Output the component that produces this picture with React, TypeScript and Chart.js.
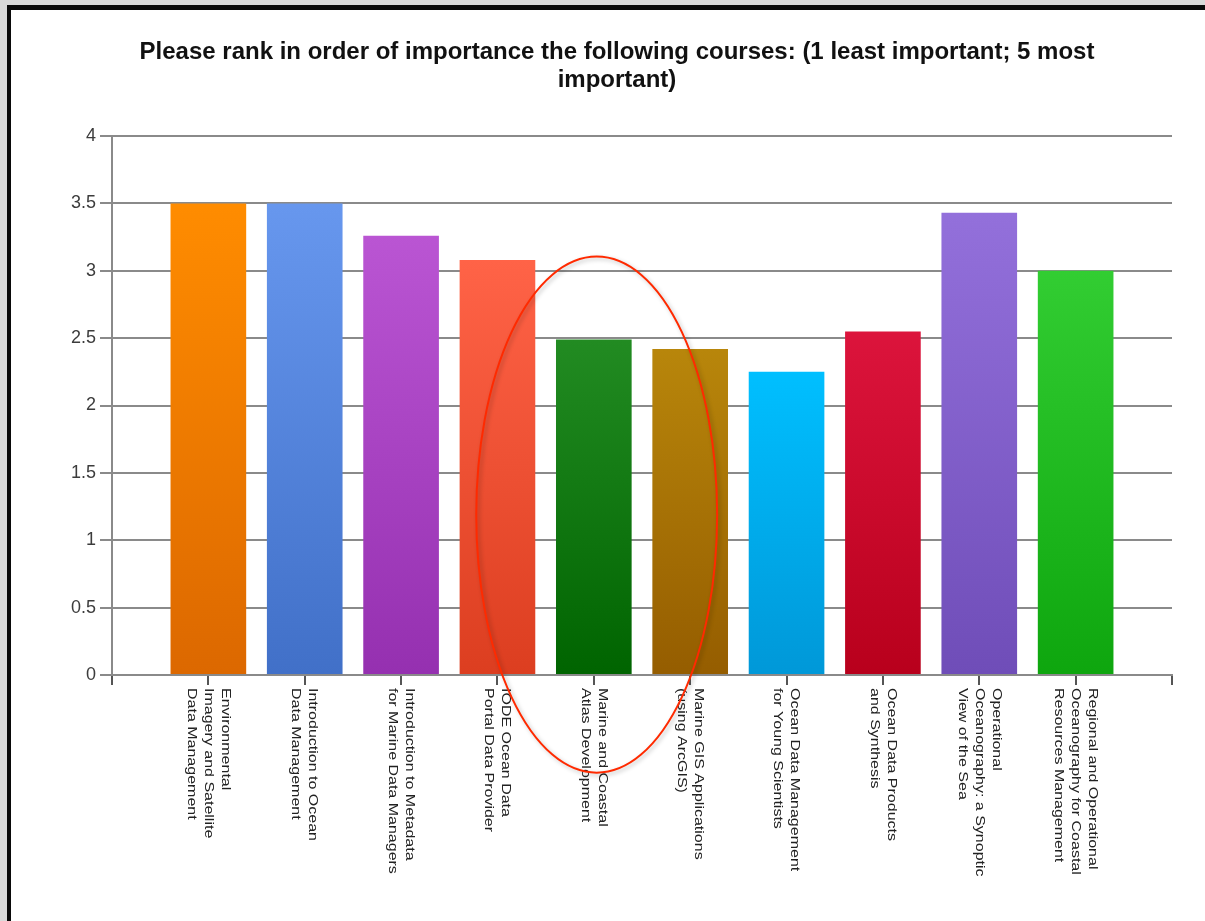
import React, { useEffect, useRef } from "react";
import { Chart, registerables } from "chart.js";

Chart.register(...registerables);

const FONT = "'Liberation Sans', Arial, sans-serif";

const titleLines = [
  "Please rank in order of importance the following courses: (1 least important; 5 most",
  "important)",
];

const courseLabelLines: string[][] = [
  ["Environmental", "Imagery and Satellite", "Data Management"],
  ["Introduction to Ocean", "Data Management"],
  ["Introduction to Metadata", "for Marine Data Managers"],
  ["IODE Ocean Data", "Portal Data Provider"],
  ["Marine and Coastal", "Atlas Development"],
  ["Marine GIS Applications", "(using ArcGIS)"],
  ["Ocean Data Management", "for Young Scientists"],
  ["Ocean Data Products", "and Synthesis"],
  ["Operational", "Oceanography: a Synoptic", "View of the Sea"],
  ["Regional and Operational", "Oceanography for Coastal", "Resources Management"],
];

const averageRanks = [3.5, 3.5, 3.26, 3.08, 2.49, 2.42, 2.25, 2.55, 3.43, 3.0];

const barTopColors = [
  "#ff8c00", "#6797ee", "#ba55d3", "#ff6347", "#228b22",
  "#b8860b", "#00bfff", "#dc143c", "#9370db", "#32cd32",
];
const barBottomColors = [
  "#dc6800", "#4170c8", "#9530b0", "#dc3e20", "#006400",
  "#955d00", "#0098d8", "#b8001c", "#6f4db8", "#0ea60e",
];

const yMin = 0;
const yMax = 4;
const yStep = 0.5;

// highlight ellipse (in axis units: category index / value)
const ellipseCenterIndex = 5.03;
const ellipseCenterValue = 1.19;
const ellipseRadiusIndex = 1.25;
const ellipseRadiusValue = 1.915;

const CANVAS_W = 1194;
const CANVAS_H = 911;

export default function App() {
  const ref = useRef<HTMLCanvasElement | null>(null);

  useEffect(() => {
    if (!ref.current) return;
    const n = averageRanks.length;
    const labels = ["", ...courseLabelLines.map((l) => l.join(" ")), ""];
    const data = [null, ...averageRanks, null];

    const xLabelsPlugin = {
      id: "xLabels",
      afterDraw(chart: any) {
        const ctx = chart.ctx;
        const xs = chart.scales.x;
        const base = chart.chartArea.bottom;
        ctx.save();
        ctx.fillStyle = "#222";
        ctx.font = `16px ${FONT}`;
        ctx.textBaseline = "middle";
        ctx.textAlign = "left";
        courseLabelLines.forEach((lines, i) => {
          const px = xs.getPixelForValue(i + 1);
          const k = lines.length;
          lines.forEach((line, j) => {
            ctx.save();
            ctx.translate(px, base + 13);
            ctx.rotate(Math.PI / 2);
            ctx.translate(0, (j - (k - 1) / 2) * 17);
            ctx.scale(1, 0.85);
            ctx.fillText(line, 0, 0);
            ctx.restore();
          });
        });
        ctx.restore();
      },
    };

    const ellipsePlugin = {
      id: "highlightEllipse",
      afterDraw(chart: any) {
        const ctx = chart.ctx;
        const xs = chart.scales.x;
        const ys = chart.scales.y;
        const cx = xs.getPixelForValue(ellipseCenterIndex);
        const cy = ys.getPixelForValue(ellipseCenterValue);
        const rx = Math.abs(xs.getPixelForValue(ellipseCenterIndex + ellipseRadiusIndex) - cx);
        const ry = Math.abs(ys.getPixelForValue(ellipseCenterValue + ellipseRadiusValue) - cy);
        ctx.save();
        ctx.shadowColor = "rgba(0,0,0,0.25)";
        ctx.shadowBlur = 4;
        ctx.shadowOffsetX = 2;
        ctx.shadowOffsetY = 2;
        ctx.strokeStyle = "#ff2a00";
        ctx.lineWidth = 2;
        ctx.beginPath();
        ctx.ellipse(cx, cy, rx, ry, 0, 0, Math.PI * 2);
        ctx.stroke();
        ctx.restore();
      },
    };

    const chart = new Chart(ref.current, {
      type: "bar",
      data: {
        labels,
        datasets: [
          {
            data,
            backgroundColor: (c: any) => {
              const i = c.dataIndex - 1;
              if (i < 0 || i >= n) return "transparent";
              const ch = c.chart;
              const ys = ch.scales && ch.scales.y;
              if (!ch.chartArea || !ys) return barTopColors[i];
              const top = ys.getPixelForValue(averageRanks[i]);
              const bottom = ys.getPixelForValue(0);
              const g = ch.ctx.createLinearGradient(0, top, 0, bottom);
              g.addColorStop(0, barTopColors[i]);
              g.addColorStop(1, barBottomColors[i]);
              return g;
            },
            borderWidth: 0,
            barPercentage: 0.785,
            categoryPercentage: 1,
          },
        ],
      },
      options: {
        responsive: false,
        animation: false,
        devicePixelRatio: 1,
        layout: { padding: { left: 51, right: 33, top: 0, bottom: 0 } },
        plugins: {
          legend: { display: false },
          tooltip: { enabled: false },
          title: {
            display: true,
            text: titleLines,
            color: "#111",
            font: { family: FONT, size: 24, weight: "bold", lineHeight: 28 / 24 },
            padding: { top: 28, bottom: 42 },
          },
        },
        scales: {
          x: {
            type: "category",
            offset: false,
            grid: {
              display: true,
              offset: false,
              drawOnChartArea: false,
              drawTicks: true,
              tickLength: 10,
              color: "#555",
              lineWidth: 2,
            },
            border: { display: true, color: "#8a8a8a", width: 2 },
            ticks: { display: false },
            afterFit: (s: any) => {
              s.height = CANVAS_H - 665;
            },
          },
          y: {
            min: yMin,
            max: yMax,
            ticks: {
              stepSize: yStep,
              padding: 4,
              color: "#3c3c3c",
              font: { family: FONT, size: 18 },
              callback: (v: any) => String(Number(v)),
            },
            grid: {
              color: "#8a8a8a",
              lineWidth: 2,
              drawTicks: true,
              tickLength: 12,
            },
            border: { display: true, color: "#8a8a8a", width: 2 },
            afterFit: (s: any) => {
              s.width = 50;
            },
          },
        },
      } as any,
      plugins: [xLabelsPlugin, ellipsePlugin],
    });
    return () => chart.destroy();
  }, []);

  return (
    <div
      style={{
        position: "fixed",
        left: 0,
        top: 0,
        width: 1205,
        height: 921,
        background: "#d9d9d9",
        overflow: "hidden",
      }}
    >
      <div
        style={{
          position: "absolute",
          left: 7,
          top: 5,
          width: 1300,
          height: 1000,
          background: "#fff",
          borderLeft: "4px solid #0a0a0a",
          borderTop: "5px solid #0a0a0a",
        }}
      >
        <canvas
          ref={ref}
          width={CANVAS_W}
          height={CANVAS_H}
          style={{ display: "block", width: CANVAS_W, height: CANVAS_H }}
        />
      </div>
    </div>
  );
}
